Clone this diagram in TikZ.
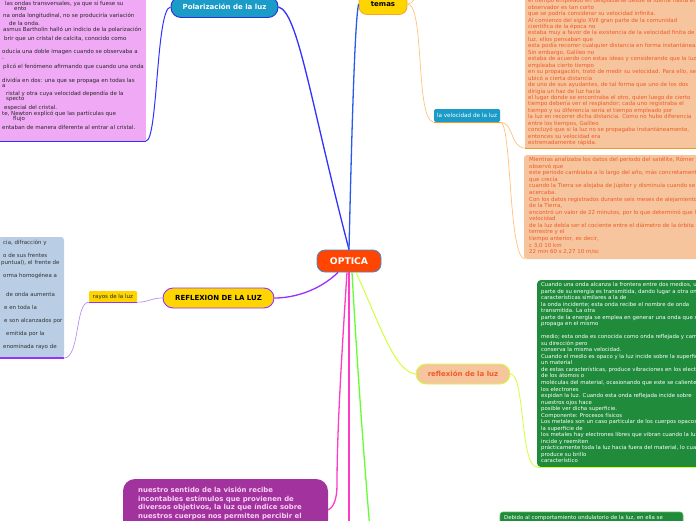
\documentclass[tikz,border=0pt]{standalone}
\usepackage{fontspec}
\setmainfont{DejaVu Sans}
\usetikzlibrary{calc}
\newcommand\mytight{\lineskiplimit=-5pt\relax}
\definecolor{optfill}{RGB}{255,69,0}
\definecolor{optborder}{RGB}{70,140,210}
\definecolor{tealbox}{RGB}{27,155,199}
\definecolor{tealborder}{RGB}{40,50,210}
\definecolor{gold}{RGB}{255,213,0}
\definecolor{goldborder}{RGB}{245,166,35}
\definecolor{peach}{RGB}{246,197,158}
\definecolor{peachtxt}{RGB}{240,90,36}
\definecolor{grnbox}{RGB}{31,139,59}
\definecolor{grnborder}{RGB}{90,180,90}
\definecolor{purpbox}{RGB}{162,50,158}
\definecolor{purptxt}{RGB}{248,210,245}
\definecolor{pinkbox}{RGB}{240,170,245}
\definecolor{bluebox}{RGB}{185,205,229}
\definecolor{polline}{RGB}{50,50,255}
\definecolor{temline}{RGB}{40,90,235}
\definecolor{purpline}{RGB}{150,50,255}
\definecolor{lpurp}{RGB}{190,140,245}
\definecolor{magline}{RGB}{255,60,200}
\definecolor{grnline}{RGB}{100,255,50}
\definecolor{ygline}{RGB}{210,255,60}
\definecolor{orthin}{RGB}{255,195,120}
\definecolor{orline}{RGB}{247,148,29}
\begin{document}
\begin{tikzpicture}[x=1pt,y=-1pt,
  pillnode/.style={rectangle, inner sep=0pt, align=center},
  bodytext/.style={anchor=north west, inner sep=0pt, align=left},
  frag/.style={anchor=base west, inner sep=0pt, font=\fontsize{5.5}{6.5}\selectfont},
  conn/.style={line width=1.3pt},
  thinconn/.style={line width=0.7pt},
]
\useasboundingbox (0,0) rectangle (696,520);
\clip (0,0) rectangle (696,520);
\fill[white] (0,0) rectangle (696,520);

% ---------- boxes ----------
\fill[pinkbox] (-10,-10) rectangle (146,141);
\fill[bluebox, rounded corners=3pt] (-10,237) rectangle (64,358);
\fill[peach] (525,-10) rectangle (706,148);
\fill[peach, rounded corners=3pt] (524,155) rectangle (706,259);
\fill[grnbox, rounded corners=4pt] (537,280) rectangle (706,467);
\fill[grnbox, draw=grnborder, line width=0.6pt, rounded corners=3pt] (500,512) rectangle (683,535);
\fill[purpbox, rounded corners=12pt] (123,479) rectangle (328,545);

\coordinate (pkbr) at (146,141);
\coordinate (pkbl) at (-10,141);
\coordinate (bbr) at (64,358);
\coordinate (bbl) at (-10,358);
\coordinate (p1bl) at (525,148);
\coordinate (p1br) at (706,148);
\coordinate (p2bl) at (525,259);
\coordinate (gbl) at (537,467);
\coordinate (gbr) at (706,467);
\coordinate (pbr) at (328,510);
\coordinate (magend) at (349,530);
\coordinate (grnend) at (370,530);
\coordinate (temasup) at (420,-8);

% ---------- nodes ----------
\node[pillnode, fill=optfill, draw=optborder, line width=0.8pt, minimum width=64pt, minimum height=22pt, rounded corners=8pt, text=white, font=\bfseries\fontsize{9.2}{10}\selectfont] (optica) at (349,261) {OPTICA};
\node[pillnode, fill=tealbox, draw=tealborder, line width=0.9pt, minimum width=107pt, minimum height=21pt, rounded corners=10pt, text=white, font=\bfseries\fontsize{7}{8}\selectfont] (polar) at (224.5,7) {Polarización de la luz};
\node[pillnode, fill=gold, draw=goldborder, line width=0.8pt, minimum width=48pt, minimum height=21pt, rounded corners=8pt, text=black, font=\bfseries\fontsize{7}{8}\selectfont] (temas) at (383,4) {temas};
\node[pillnode, fill=tealbox, minimum width=66pt, minimum height=13pt, rounded corners=1.5pt, text=white, font=\fontsize{5.7}{6}\selectfont] (velo) at (467,115.5) {la velocidad de la luz};
\node[pillnode, fill=gold, draw=purpline, line width=0.9pt, minimum width=111pt, minimum height=20pt, rounded corners=10pt, text=black, font=\bfseries\fontsize{7}{8}\selectfont] (refl) at (218.5,298) {REFLEXION DE LA LUZ};
\node[pillnode, fill=gold, minimum width=48pt, minimum height=11pt, rounded corners=1pt, text=black!85, font=\fontsize{5.5}{6}\selectfont] (rayos) at (113,296.5) {rayos de la luz};
\node[pillnode, fill=peach, draw=ygline, line width=0.9pt, minimum width=94pt, minimum height=20pt, rounded corners=10pt, text=peachtxt, font=\bfseries\fontsize{7}{8}\selectfont] (reflx) at (463,374) {reflexión de la luz};

% ---------- connectors ----------
\draw[polline, conn] (polar.east) .. controls (298,12) and (310,100) .. (optica.north);
\draw[temline, conn] (optica.north) .. controls (352,120) and (355,20) .. (temas.west);
\draw[orthin, thinconn] (temas.east) .. controls (413,4) and (414,-2) .. (temasup);
\draw[orthin, thinconn] (temas.east) .. controls (425,4) and (415,121) .. (velo.south west);
\draw[orline, line width=1.2pt] (velo.south west) -- (velo.south east);
\draw[orthin, thinconn] (velo.south east) .. controls (514,122) and (510,148) .. (p1bl);
\draw[orthin, thinconn] (velo.south east) .. controls (512,122) and (508,258) .. (p2bl);
\draw[orline, line width=1pt] (p1bl) -- (p1br);
\draw[purpline, conn] ($(optica.south)+(-11,0)$) .. controls (320,290) and (295,298) .. (refl.east);
\draw[lpurp, thinconn] (refl.west) .. controls (150,298) and (150,302) .. (rayos.south east);
\draw[purpline, line width=1.2pt] (rayos.south west) -- (rayos.south east);
\draw[lpurp, thinconn] (rayos.south west) .. controls (75,302) and (80,358) .. (bbr);
\draw[purpline, line width=1.2pt] (bbl) -- (bbr);
\draw[ygline, line width=1pt] ($(optica.south)+(7,0)$) .. controls (380,325) and (395,372) .. (reflx.west);
\draw[ygline, line width=0.8pt] (reflx.east) .. controls (525,374) and (520,467) .. (gbl);
\draw[ygline, line width=0.8pt] (gbl) -- (gbr);
\draw[magline, conn] ($(optica.south)+(-2,0)$) .. controls (340,380) and (337,440) .. (337,485) .. controls (337,500) and (333,508) .. (pbr);
\draw[magline, conn] (optica.south) -- (magend);
\draw[grnline, conn] ($(optica.south)+(3,0)$) .. controls (358,380) and (365,470) .. (grnend);
\draw[polline, line width=1pt] (polar.west) .. controls (156,8) and (158,141) .. (pkbr);
\draw[polline, line width=1pt] (pkbl) -- (pkbr);

% ---------- texts ----------
\node[bodytext, text=peachtxt, font=\fontsize{5.5}{6.45}\selectfont\mytight] (p1txt) at (528,-2.5) {\rule{0pt}{5pt}el tiempo empleado en desplazarse desde la fuente hasta el\\
observador es tan corto\\
que se podría considerar su velocidad infinita.\\
Al comienzo del siglo XVII gran parte de la comunidad\\
científica de la época no\\
estaba muy a favor de la existencia de la velocidad finita de la\\
luz, ellos pensaban que\\
esta podía recorrer cualquier distancia en forma instantánea.\\
Sin embargo, Galileo no\\
estaba de acuerdo con estas ideas y considerando que la luz\\
empleaba cierto tiempo\\
en su propagación, trató de medir su velocidad. Para ello, se\\
ubicó a cierta distancia\\
de uno de sus ayudantes, de tal forma que uno de los dos\\
dirigía un haz de luz hacia\\
el lugar donde se encontraba el otro, quien luego de cierto\\
tiempo debería ver el resplandor; cada uno registraba el\\
tiempo y su diferencia sería el tiempo empleado por\\
la luz en recorrer dicha distancia. Como no hubo diferencia\\
entre los tiempos, Galileo\\
concluyó que si la luz no se propagaba instantáneamente,\\
entonces su velocidad era\\
extremadamente rápida.};

\node[bodytext, text=peachtxt, font=\fontsize{5.5}{6.57}\selectfont\mytight] (p2txt) at (529,156.5) {\rule{0pt}{5pt}Mientras analizaba los datos del periodo del satélite, Römer\\
observó que\\
este periodo cambiaba a lo largo del año, más concretamente\\
que crecía\\
cuando la Tierra se alejaba de Júpiter y disminuía cuando se\\
acercaba.\\
Con los datos registrados durante seis meses de alejamiento\\
de la Tierra,\\
encontró un valor de 22 minutos, por lo que determinó que la\\
velocidad\\
de la luz debía ser el cociente entre el diámetro de la órbita\\
terrestre y el\\
tiempo anterior, es decir,\\
c 3,0 10 km\\
22 min 60 s 2,27 10 m/sc};

\node[bodytext, text=white, font=\fontsize{5.4}{6.52}\selectfont\mytight] (gtxt) at (541,281.5) {\rule{0pt}{5pt}Cuando una onda alcanza la frontera entre dos medios, una\\
parte de su energía es transmitida, dando lugar a otra onda de\\
características similares a la de\\
la onda incidente; esta onda recibe el nombre de onda\\
transmitida. La otra\\
parte de la energía se emplea en generar una onda que se\\
propaga en el mismo\\[6.52pt]
medio; esta onda es conocida como onda reflejada y cambia\\
su dirección pero\\
conserva la misma velocidad.\\
Cuando el medio es opaco y la luz incide sobre la superficie de\\
un material\\
de estas características, produce vibraciones en los electrones\\
de los átomos o\\
moléculas del material, ocasionando que este se caliente y que\\
los electrones\\
expidan la luz. Cuando esta onda reflejada incide sobre\\
nuestros ojos hace\\
posible ver dicha superficie.\\
Componente: Procesos físicos\\
Los metales son un caso particular de los cuerpos opacos, en\\
la superficie de\\
los metales hay electrones libres que vibran cuando la luz\\
incide y reemiten\\
prácticamente toda la luz hacia fuera del material, lo cual\\
produce su brillo\\
característico};

\node[bodytext, text=white, font=\fontsize{5.4}{6.5}\selectfont] (g2txt) at (504,514) {\rule{0pt}{5pt}Debido al comportamiento ondulatorio de la luz, en ella se};

\node[bodytext, text=purptxt, font=\bfseries\fontsize{6.9}{8.8}\selectfont\mytight] (ptxt) at (138,485.5) {\rule{0pt}{6.5pt}nuestro sentido de la visión recibe\\
incontables estímulos que provienen de\\
diversos objetivos, la luz que índice sobre\\
nuestros cuerpos nos permiten percibir el};

% pink box fragments
\begin{scope}[every node/.style={frag, text=black!85}]
\node (pk1) at (5,5.5) {las ondas transversales, ya que si fuese su};
\node (pk2) at (14,10.5) {ento};
\node (pk3) at (3,17.5) {na onda longitudinal, no se produciría variación};
\node (pk4) at (9,25.5) {de la onda.};
\node (pk5) at (3,31.5) {asmus Bartholin halló un indicio de la polarización};
\node (pk6) at (4,40.5) {brir que un cristal de calcita, conocido como};
\node (pk7) at (2,53.5) {oducía una doble imagen cuando se observaba a};
\node (pk8) at (2,59.5) {.};
\node (pk9) at (3,68.5) {plicó el fenómeno afirmando que cuando una onda};
\node (pk10) at (2,82.5) {dividía en dos: una que se propaga en todas las};
\node (pk11) at (2,87.5) {a};
\node (pk12) at (6,95.5) {ristal y otra cuya velocidad dependía de la};
\node (pk13) at (6,100.5) {specto};
\node (pk14) at (4,109.5) {especial del cristal.};
\node (pk15) at (2,115.5) {te, Newton explicó que las partículas que};
\node (pk16) at (13,120.5) {flujo};
\node (pk17) at (2,129.5) {entaban de manera diferente al entrar al cristal.};
\end{scope}

% blue box fragments
\begin{scope}[every node/.style={frag, text=black!80}]
\node (bb1) at (3,244.5) {cia, difracción y};
\node (bb2) at (3,257.5) {o de sus frentes};
\node (bb3) at (1,264) {puntual), el frente de};
\node (bb4) at (3,277) {orma homogénea a};
\node (bb5) at (6,296.5) {de onda aumenta};
\node (bb6) at (4,309.5) {e en toda la};
\node (bb7) at (4,322.5) {e son alcanzados por};
\node (bb8) at (6,335.5) {emitida por la};
\node (bb9) at (3,348.5) {enominada rayo de};
\end{scope}
\end{tikzpicture}
\end{document}
